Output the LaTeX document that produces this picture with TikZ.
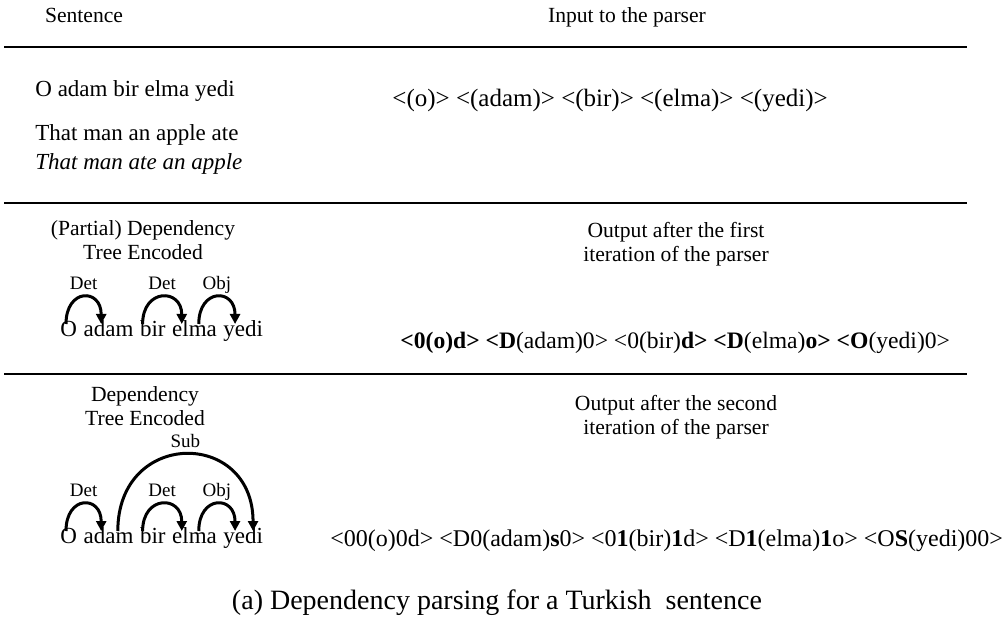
\documentclass[tikz,border=0pt]{standalone}
\usepackage{fontspec}
\setmainfont{Liberation Serif}
\usetikzlibrary{arrows.meta}
\tikzset{
  hdr/.style={font=\fontsize{10.8}{12}\selectfont, align=center, inner sep=0pt},
  txt/.style={font=\fontsize{11.5}{13}\selectfont, anchor=base west, inner sep=0pt},
  word/.style={txt},
  lbl/.style={font=\fontsize{9.5}{10}\selectfont, inner sep=1pt, text height=1.6ex, text depth=0.4ex},
  rulebar/.style={line width=1pt},
  dep/.style={line width=1.5pt, -{Triangle[length=5pt,width=5pt]}}
}
\def\wsp{2.9pt}
\begin{document}
\begin{tikzpicture}[x=0.5pt,y=-0.5pt]
\useasboundingbox (0,0) rectangle (1007,620);
%
\node [hdr,anchor=base] at (84,23) (senthdr) {Sentence};
\node [hdr,anchor=base] at (627,23) (inhdr) {Input to the parser};
\draw [rulebar] (4,47) -- (967,47);
%
\node [txt] at (35,97) (turk) {O adam bir elma yedi};
\node [txt] at (35,141) (gloss) {That man an apple ate};
\node [txt] at (35,170) (transl) {\itshape That man ate an apple};
\node [txt,font=\fontsize{12.5}{14}\selectfont] at (392,107) (input) {<(o)> <(adam)> <(bir)> <(elma)> <(yedi)>};
\draw [rulebar] (4,203) -- (967,203);
%
\node [hdr] at (143,240) (parthdr) {(Partial) Dependency\\Tree Encoded};
\node [hdr] at (676,244) (firsthdr) {Output after the first\\iteration of the parser};
\node [word] at (60,336) (o1) {O};
\node [word] at ([xshift=\wsp]o1.base east) (adam1) {adam};
\node [word] at ([xshift=\wsp]adam1.base east) (bir1) {bir};
\node [word] at ([xshift=\wsp]bir1.base east) (elma1) {elma};
\node [word] at ([xshift=\wsp]elma1.base east) (yedi1) {yedi};
\node [txt,font=\fontsize{11.8}{13}\selectfont] at (400,349) (out1) {\textbf{<0(o)d>} \textbf{<D}(adam)0> <0(bir)\textbf{d>} \textbf{<D}(elma)\textbf{o>} \textbf{<O}(yedi)0>};
%
\draw [dep] ([xshift=3pt,yshift=6pt]o1.base west) .. controls +(0,-36) and +(0,-36) .. node [lbl,pos=0.5,above] (det1a) {Det} ([xshift=9pt,yshift=6pt]adam1.base west);
\draw [dep] ([xshift=1.5pt,yshift=6pt]bir1.base west) .. controls +(0,-36) and +(0,-36) .. node [lbl,pos=0.5,above] (det2a) {Det} ([xshift=5pt,yshift=6pt]elma1.base west);
\draw [dep] ([xshift=13.5pt,yshift=6pt]elma1.base west) .. controls +(0,-36) and +(0,-36) .. node [lbl,pos=0.5,above] (obja) {Obj} ([xshift=6pt,yshift=6pt]yedi1.base west);
\draw [rulebar] (4,374) -- (967,374);
%
\node [hdr] at (145,406) (fullhdr) {Dependency\\Tree Encoded};
\node [hdr] at (676,417) (secondhdr) {Output after the second\\iteration of the parser};
\node [word] at (60,543) (o2) {O};
\node [word] at ([xshift=\wsp]o2.base east) (adam2) {adam};
\node [word] at ([xshift=\wsp]adam2.base east) (bir2) {bir};
\node [word] at ([xshift=\wsp]bir2.base east) (elma2) {elma};
\node [word] at ([xshift=\wsp]elma2.base east) (yedi2) {yedi};
\node [txt,font=\fontsize{12}{14}\selectfont] at (330,546) (out2) {<00(o)0d> <D0(adam)\textbf{s}0> <0\textbf{1}(bir)\textbf{1}d> <D\textbf{1}(elma)\textbf{1}o> <O\textbf{S}(yedi)00>};
%
\draw [dep] ([xshift=3pt,yshift=6pt]o2.base west) .. controls +(0,-36) and +(0,-36) .. node [lbl,pos=0.5,above] (det1b) {Det} ([xshift=9pt,yshift=6pt]adam2.base west);
\draw [dep] ([xshift=1.5pt,yshift=6pt]bir2.base west) .. controls +(0,-36) and +(0,-36) .. node [lbl,pos=0.5,above] (det2b) {Det} ([xshift=5pt,yshift=6pt]elma2.base west);
\draw [dep] ([xshift=13.5pt,yshift=6pt]elma2.base west) .. controls +(0,-36) and +(0,-36) .. node [lbl,pos=0.5,above] (objb) {Obj} ([xshift=6pt,yshift=6pt]yedi2.base west);
\draw [dep] ([xshift=17.3pt,yshift=6pt]adam2.base west) .. controls +(0,-102) and +(0,-102) .. node [lbl,pos=0.5,above] (subb) {Sub} ([xshift=15pt,yshift=6pt]yedi2.base west);
%
\node [font=\fontsize{14}{16}\selectfont, inner sep=0pt] at (497,603) (caption) {(a) Dependency parsing for a Turkish\ \ sentence};
\end{tikzpicture}
\end{document}
